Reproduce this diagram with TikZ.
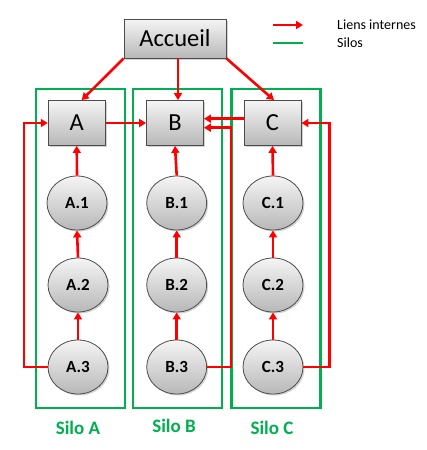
\documentclass[tikz,border=0pt]{standalone}
\usepackage{fontspec}
\setmainfont{Carlito}
\usetikzlibrary{arrows.meta,shadows,shapes.geometric,calc}
\definecolor{silogreen}{RGB}{0,176,80}
\begin{document}
\begin{tikzpicture}[x=1pt,y=-1pt,
  box/.style={draw=black!70, line width=0.8pt, top color=black!4, bottom color=black!28,
    minimum width=57pt, minimum height=45pt, inner sep=0pt,
    font=\fontsize{24.5}{26}\selectfont,
    drop shadow={shadow xshift=1.5pt, shadow yshift=-1.5pt, opacity=0.35}},
  pagenode/.style={ellipse, draw=black!70, line width=0.8pt, top color=black!4, bottom color=black!28,
    minimum width=60pt, minimum height=54pt, inner sep=0pt,
    font=\bfseries\fontsize{17}{19}\selectfont,
    drop shadow={shadow xshift=1.5pt, shadow yshift=-1.5pt, opacity=0.35}},
  link/.style={draw=red, line width=2.6pt, -{Triangle[length=7pt,width=8pt]}},
  silo/.style={draw=silogreen, line width=2.6pt, minimum width=89pt, minimum height=319pt, inner sep=0pt},
  silolabel/.style={text=silogreen, font=\bfseries\fontsize{19}{21}\selectfont},
  legendtext/.style={anchor=west, inner sep=0pt, font=\fontsize{14}{16}\selectfont}]
\useasboundingbox[fill=white] (0,0) rectangle (426,450);

% silos
\node[silo] (siloA) at (80.5,248.5) {};
\node[silo] (siloB) at (177.5,248.5) {};
\node[silo] (siloC) at (276,248.5) {};
\node[silolabel] (labA) at (78,428) {Silo A};
\node[silolabel] (labB) at (174,426) {Silo B};
\node[silolabel] (labC) at (272,428) {Silo C};

% boxes
\node[box, minimum width=102pt, minimum height=39pt] (acc) at (175,38.5) {Accueil};
\node[box] (A) at (76.7,123) {A};
\node[box] (B) at (175,123) {B};
\node[box] (C) at (272.5,123) {C};

% pages
\node[pagenode] (A1) at (77,203) {A.1};
\node[pagenode] (A2) at (78,285) {A.2};
\node[pagenode] (A3) at (78,367) {A.3};
\node[pagenode] (B1) at (176.7,203) {B.1};
\node[pagenode] (B2) at (176.7,285) {B.2};
\node[pagenode] (B3) at (176.7,367) {B.3};
\node[pagenode] (C1) at (273,203) {C.1};
\node[pagenode] (C2) at (273,285) {C.2};
\node[pagenode] (C3) at (273,367) {C.3};

% links from home
\draw[link] (acc.south west) -- ([xshift=5pt]A.north);
\draw[link] ([xshift=3pt]acc.south) -- ([xshift=3pt]B.north);
\draw[link] (acc.south east) -- ([xshift=1.5pt]C.north);

% links between boxes
\draw[link] (A.east) -- (B.west);
\draw[link] ($(C.west)+(0,-4.3)$) -- ($(B.east)+(0,-4.3)$);

% vertical links
\foreach \s in {A,B,C}{
  \draw[link] (\s1.north) -- (\s.south);
  \draw[link] (\s2.north) -- (\s1.south);
  \draw[link] (\s3.north) -- (\s2.south);
}

% loops
\draw[link] (A3.west) -- ++(-23.5,0) |- (A.west);
\draw[link] (B3.east) -- ++(24,0) |- ($(B.east)+(0,4.7)$);
\draw[link] (C3.east) -- ++(26,0) |- (C.east);

% legend
\coordinate (la1) at (273,25);
\coordinate (lb1) at (303,25);
\coordinate (la2) at (273,43);
\coordinate (lb2) at (303,43);
\draw[link] (la1) -- (lb1);
\draw[draw=silogreen, line width=2.6pt] (la2) -- (lb2);
\node[legendtext] (t1) at (337,25) {Liens internes};
\node[legendtext] (t2) at (337,43) {Silos};
\end{tikzpicture}
\end{document}
